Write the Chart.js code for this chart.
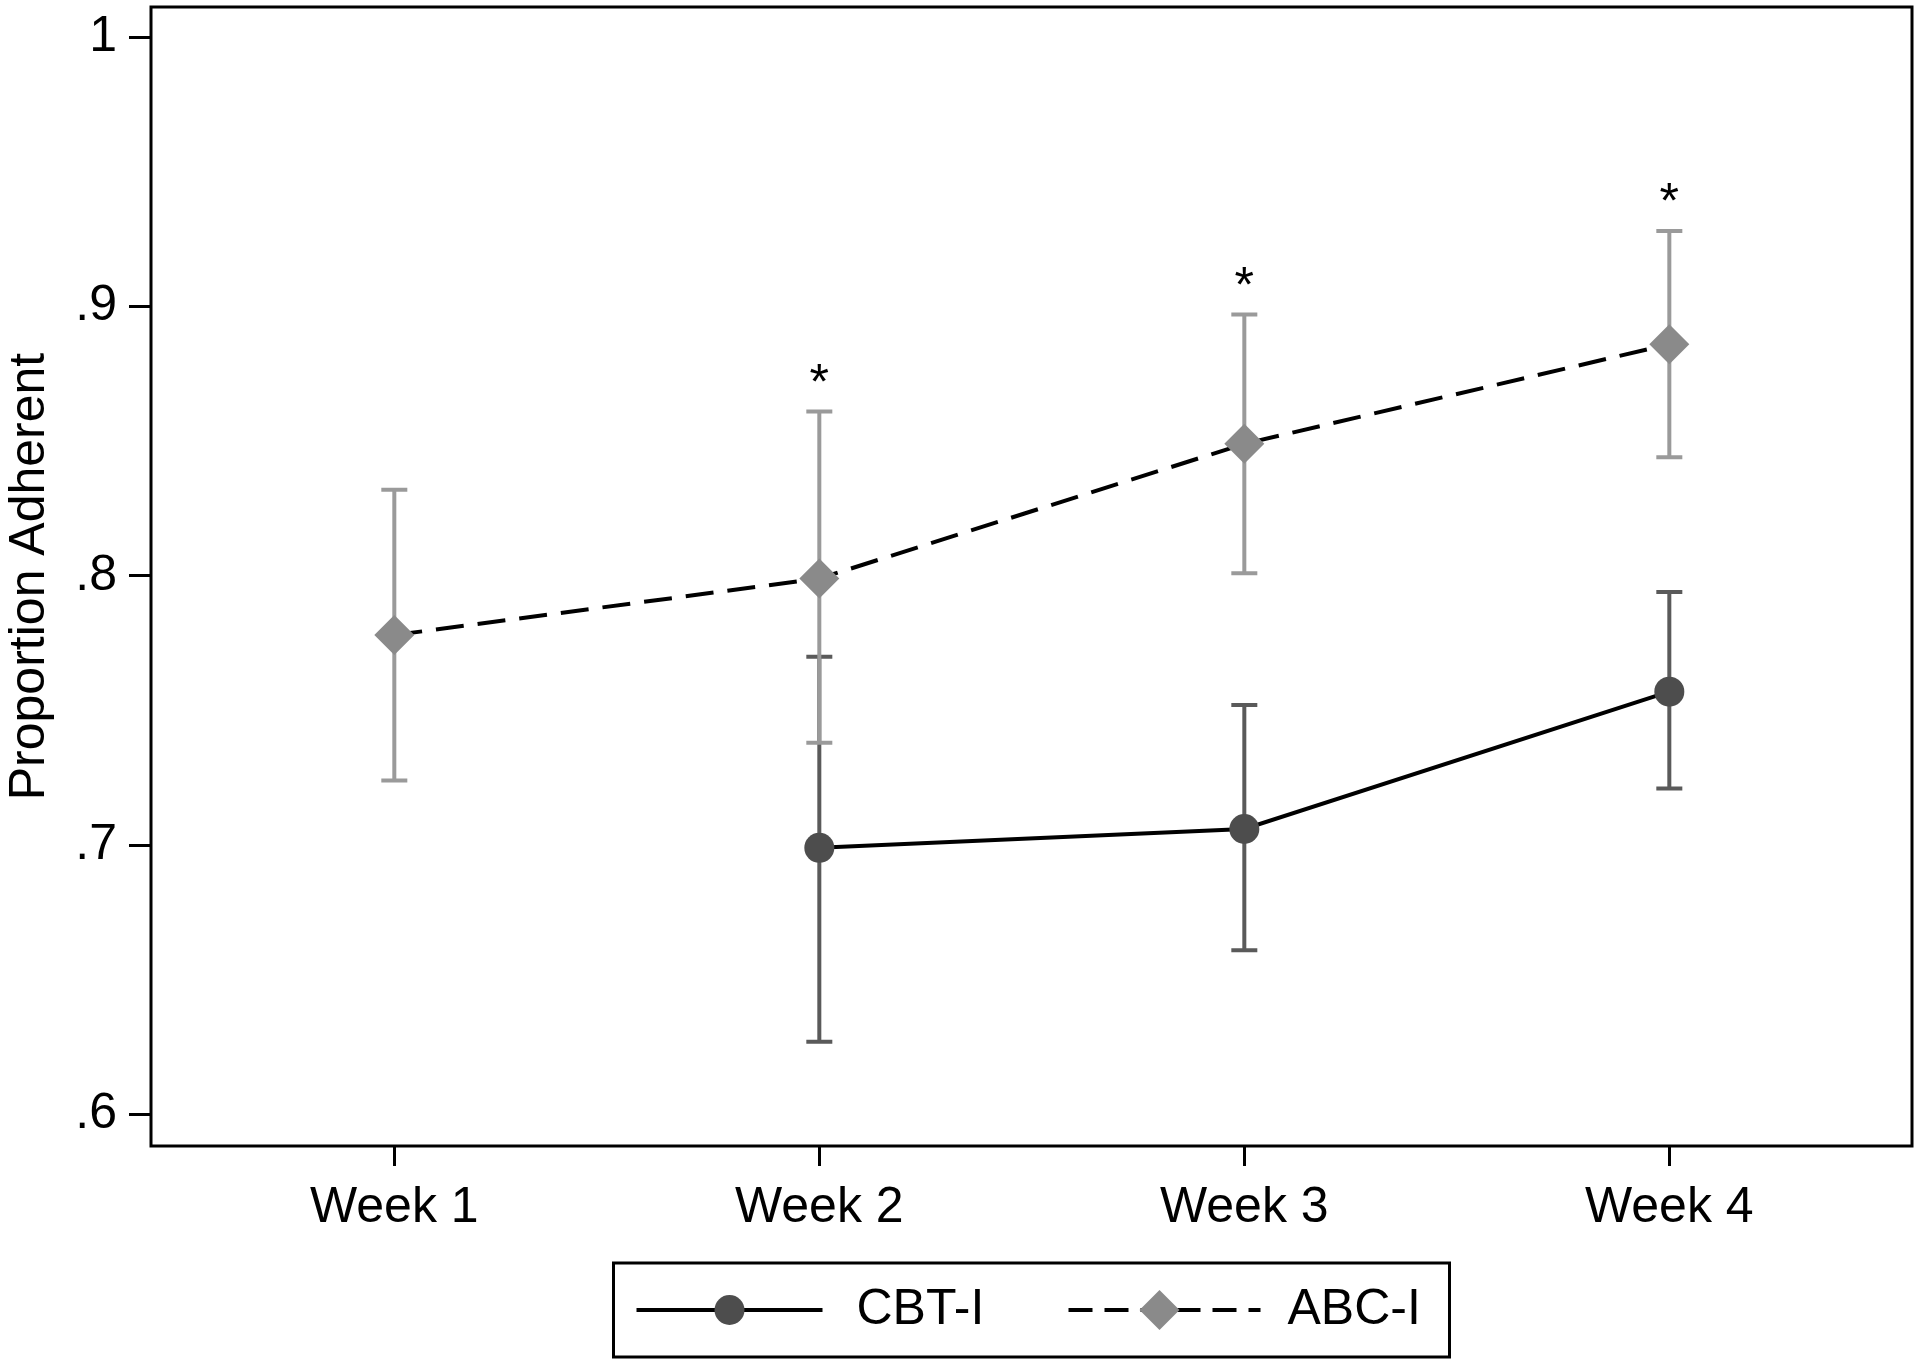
<!DOCTYPE html>
<html>
<head>
<meta charset="utf-8">
<script src="https://cdn.jsdelivr.net/npm/chart.js@4.4.1/dist/chart.umd.min.js"></script>
<style>
  html, body { margin: 0; padding: 0; background: #fff; }
  canvas { display: block; }
</style>
</head>
<body>
<canvas id="adherenceChart" width="1920" height="1363"></canvas>
<script>
// categories / ticks
const weeks = [1, 2, 3, 4];
const weekLabels = ['Week 1', 'Week 2', 'Week 3', 'Week 4'];
const yTicks = [0.6, 0.7, 0.8, 0.9, 1];
const yTickLabels = ['.6', '.7', '.8', '.9', '1'];

// CBT-I (no week 1 value)
const cbtMean = [null, 0.699, 0.706, 0.757];
const cbtLower = [null, 0.627, 0.661, 0.721];
const cbtUpper = [null, 0.770, 0.752, 0.794];

// ABC-I
const abcMean = [0.778, 0.799, 0.849, 0.886];
const abcLower = [0.724, 0.738, 0.801, 0.844];
const abcUpper = [0.832, 0.861, 0.897, 0.928];

// weeks with a significant difference (asterisk)
const significant = [false, true, true, true];

const FONT = "'Liberation Sans', Arial, Helvetica, sans-serif";

const overlay = {
    id: 'overlay',
    beforeDatasetsDraw(chart) {
        const {ctx, scales: {x, y}} = chart;
        const drawBars = (lower, upper, color) => {
            ctx.save();
            ctx.strokeStyle = color;
            ctx.lineWidth = 4;
            weeks.forEach((w, i) => {
                if (lower[i] == null) return;
                const px = x.getPixelForValue(w);
                const top = y.getPixelForValue(upper[i]);
                const bot = y.getPixelForValue(lower[i]);
                ctx.beginPath();
                ctx.moveTo(px, top); ctx.lineTo(px, bot);
                ctx.moveTo(px - 13, top); ctx.lineTo(px + 13, top);
                ctx.moveTo(px - 13, bot); ctx.lineTo(px + 13, bot);
                ctx.stroke();
            });
            ctx.restore();
        };
        drawBars(cbtLower, cbtUpper, '#5a5a5a');
        drawBars(abcLower, abcUpper, '#9a9a9a');
    },
    afterDatasetsDraw(chart) {
        const {ctx, scales: {x, y}} = chart;
        ctx.save();
        ctx.fillStyle = '#000';
        ctx.font = '50px ' + FONT;
        ctx.textAlign = 'center';
        ctx.textBaseline = 'alphabetic';
        weeks.forEach((w, i) => {
            if (!significant[i]) return;
            ctx.fillText('*', x.getPixelForValue(w), y.getPixelForValue(abcUpper[i]) - 13);
        });
        ctx.restore();
    },
    afterDraw(chart) {
        const {ctx, chartArea: a} = chart;
        ctx.save();
        // plot frame
        ctx.strokeStyle = '#000';
        ctx.lineWidth = 3;
        ctx.strokeRect(a.left, a.top, a.right - a.left, a.bottom - a.top);

        // legend box
        const boxW = 836, boxH = 94;
        const bx = (a.left + a.right) / 2 - boxW / 2;
        const by = a.bottom + 117;
        ctx.lineWidth = 3;
        ctx.strokeRect(bx, by, boxW, boxH);
        const cy = by + boxH / 2;

        // CBT-I entry
        ctx.beginPath();
        ctx.lineWidth = 4;
        ctx.moveTo(bx + 23, cy); ctx.lineTo(bx + 209, cy);
        ctx.stroke();
        ctx.fillStyle = '#4d4d4d';
        ctx.beginPath();
        ctx.arc(bx + 116, cy, 15, 0, Math.PI * 2);
        ctx.fill();

        // ABC-I entry
        ctx.beginPath();
        ctx.setLineDash([24, 12]);
        ctx.lineWidth = 4;
        ctx.moveTo(bx + 455, cy); ctx.lineTo(bx + 647, cy);
        ctx.stroke();
        ctx.setLineDash([]);
        ctx.fillStyle = '#8a8a8a';
        const dx = bx + 546;
        ctx.beginPath();
        ctx.moveTo(dx, cy - 20); ctx.lineTo(dx + 20, cy);
        ctx.lineTo(dx, cy + 20); ctx.lineTo(dx - 20, cy);
        ctx.closePath();
        ctx.fill();

        ctx.fillStyle = '#000';
        ctx.font = '50px ' + FONT;
        ctx.textAlign = 'left';
        ctx.textBaseline = 'middle';
        ctx.fillText('CBT-I', bx + 243, cy);
        ctx.fillText('ABC-I', bx + 674, cy);
        ctx.restore();
    }
};

const ctx = document.getElementById('adherenceChart');
new Chart(ctx, {
    type: 'line',
    data: {
        datasets: [{
            label: 'CBT-I',
            data: weeks.map((w, i) => ({x: w, y: cbtMean[i]})),
            borderColor: '#000',
            borderWidth: 4,
            pointStyle: 'circle',
            pointRadius: 15,
            pointBackgroundColor: '#4d4d4d',
            pointBorderWidth: 0,
            spanGaps: false
        }, {
            label: 'ABC-I',
            data: weeks.map((w, i) => ({x: w, y: abcMean[i]})),
            borderColor: '#000',
            borderWidth: 4,
            borderDash: [28, 14],
            pointStyle: 'rectRot',
            pointRadius: 20,
            pointBackgroundColor: '#8a8a8a',
            pointBorderWidth: 0
        }]
    },
    options: {
        responsive: false,
        animation: false,
        layout: { autoPadding: false, padding: { top: 7, right: 8, left: 0, bottom: 0 } },
        plugins: {
            legend: { display: false },
            tooltip: { enabled: false }
        },
        scales: {
            x: {
                type: 'linear',
                min: 0.4275,
                max: 4.571,
                afterBuildTicks: (s) => { s.ticks = weeks.map(v => ({value: v})); },
                afterFit: (s) => { s.height = 217; s.paddingLeft = 0; s.paddingRight = 0; },
                ticks: {
                    callback: (v) => weekLabels[weeks.indexOf(v)],
                    color: '#000',
                    font: { size: 50, family: FONT },
                    padding: 12,
                    maxRotation: 0,
                    autoSkip: false
                },
                grid: {
                    drawOnChartArea: false,
                    drawTicks: true,
                    tickLength: 20,
                    tickColor: '#000',
                    tickWidth: 3
                },
                border: { display: false }
            },
            y: {
                min: 0.5883,
                max: 1.0112,
                afterBuildTicks: (s) => { s.ticks = yTicks.map(v => ({value: v})); },
                afterFit: (s) => { s.width = 151; s.paddingTop = 0; s.paddingBottom = 0; },
                ticks: {
                    callback: (v) => yTickLabels[yTicks.indexOf(v)],
                    color: '#000',
                    font: { size: 50, family: FONT },
                    padding: 12
                },
                grid: {
                    drawOnChartArea: false,
                    drawTicks: true,
                    tickLength: 22,
                    tickColor: '#000',
                    tickWidth: 3
                },
                border: { display: false },
                title: {
                    display: true,
                    text: 'Proportion Adherent',
                    color: '#000',
                    font: { size: 50, family: FONT },
                    padding: 0
                }
            }
        }
    },
    plugins: [overlay]
});
</script>
</body>
</html>
